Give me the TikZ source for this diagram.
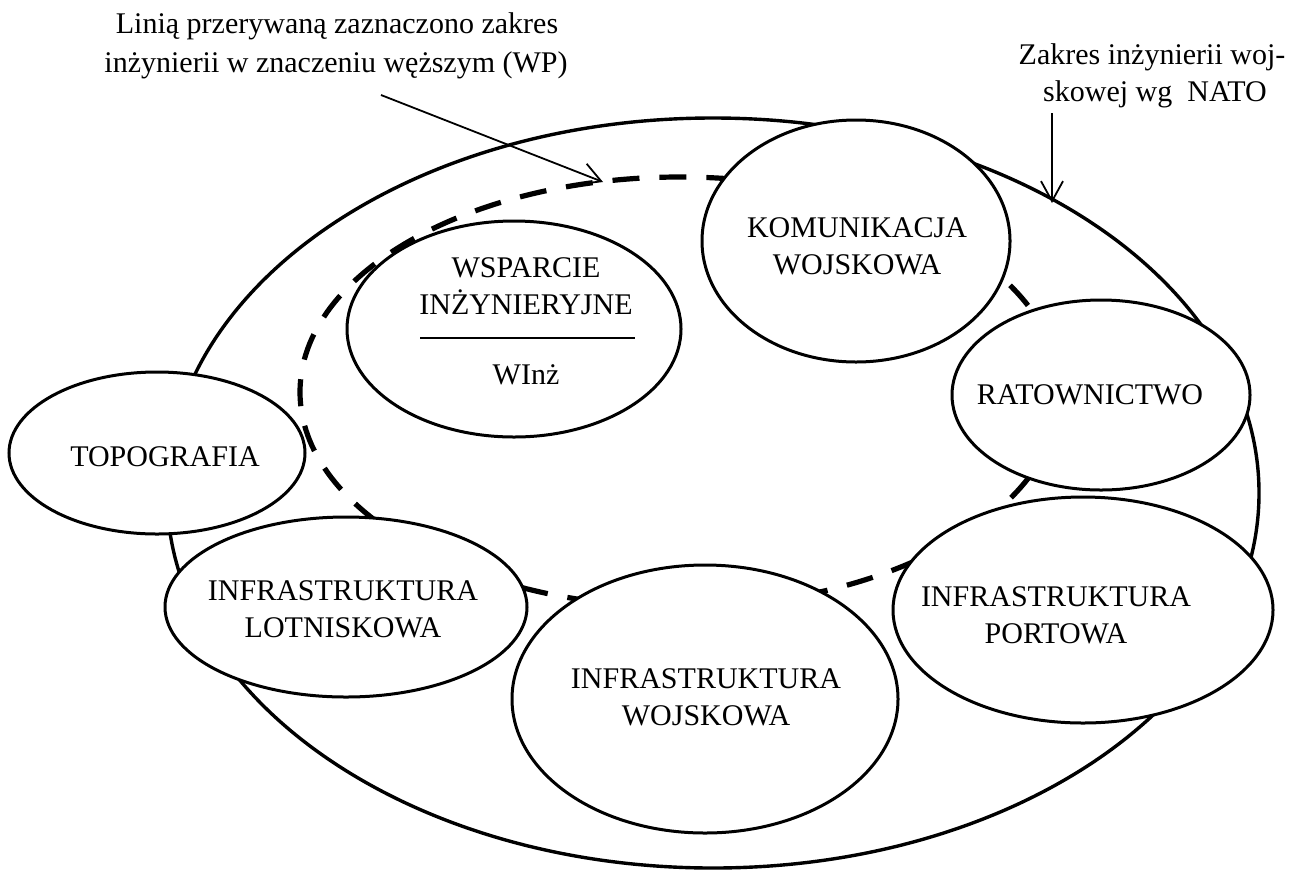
\documentclass[tikz,border=0pt]{standalone}
\usepackage{fontspec}
\setmainfont{Liberation Serif}
\usetikzlibrary{arrows.meta,shapes.geometric}
\begin{document}
\begin{tikzpicture}[x=0.5pt,y=-0.5pt,
  bub/.style={draw, ellipse, line width=1.5pt, fill=white, inner sep=0pt},
  lbl/.style={font=\fontsize{15}{18.5}\selectfont, align=center, inner sep=0pt},
  ptr/.style={line width=0.9pt, -{Straight Barb[length=10pt,width=11pt]}},
  ]
\useasboundingbox (0,0) rectangle (1293,873);

% outer region (NATO)
\node[draw, ellipse, line width=1.7pt, inner sep=0pt,
      minimum width=546pt, minimum height=375pt] (nato) at (713,493) {};

% nodes not covering the dashed line
\node[bub, minimum width=167pt, minimum height=108pt] (wsp) at (514,329) {};
\node[bub, minimum width=148pt, minimum height=81pt] (topo) at (157,453) {};

% dashed region (WP)
\node[draw, ellipse, line width=2.6pt, dash pattern=on 13.5pt off 10pt, inner sep=0pt,
      minimum width=380pt, minimum height=215pt] (wp) at (680,392) {};

% remaining nodes
\node[bub, minimum width=181pt, minimum height=90pt] (lot) at (346,607) {};
\node[bub, minimum width=193pt, minimum height=134pt] (woj) at (705,699) {};
\node[bub, minimum width=190pt, minimum height=113pt] (port) at (1083,610) {};
\node[bub, minimum width=149pt, minimum height=95pt] (rat) at (1101,395) {};
\node[bub, minimum width=154pt, minimum height=121pt] (kom) at (856,241) {};

% texts inside nodes
\node[lbl] (komT) at (857,246) {KOMUNIKACJA\\WOJSKOWA};
\node[lbl] (ratT) at (1090,395) {RATOWNICTWO};
\node[lbl] (portT) at (1056,615) {INFRASTRUKTURA\\PORTOWA};
\node[lbl] (wojT) at (706,697) {INFRASTRUKTURA\\WOJSKOWA};
\node[lbl] (lotT) at (343,609) {INFRASTRUKTURA\\LOTNISKOWA};
\node[lbl] (topoT) at (165,457) {TOPOGRAFIA};
\node[lbl] (wspT) at (526,286) {WSPARCIE\\INŻYNIERYJNE};
\node[lbl] (winzT) at (526,375) {WInż};
\coordinate (wspRuleL) at (420,338);
\coordinate (wspRuleR) at (635,338);
\draw[line width=0.9pt] (wspRuleL) -- (wspRuleR);

% annotations
\node[lbl, anchor=base] (t1) at (337,33) {Linią przerywaną zaznaczono zakres};
\node[lbl, anchor=base] (t2) at (336,72) {inżynierii w znaczeniu węższym (WP)};
\node[lbl, anchor=base] (n1) at (1152,64) {Zakres inżynierii woj-};
\node[lbl, anchor=base] (n2) at (1155,101) {skowej wg\ \ NATO};

\coordinate (wpStart) at (381,95);
\coordinate (wpTip) at (603,182);
\draw[ptr] (wpStart) -- (wpTip);
\coordinate (natoStart) at (1052,113);
\coordinate (natoTip) at (1052,203);
\draw[ptr] (natoStart) -- (natoTip);
\end{tikzpicture}
\end{document}
